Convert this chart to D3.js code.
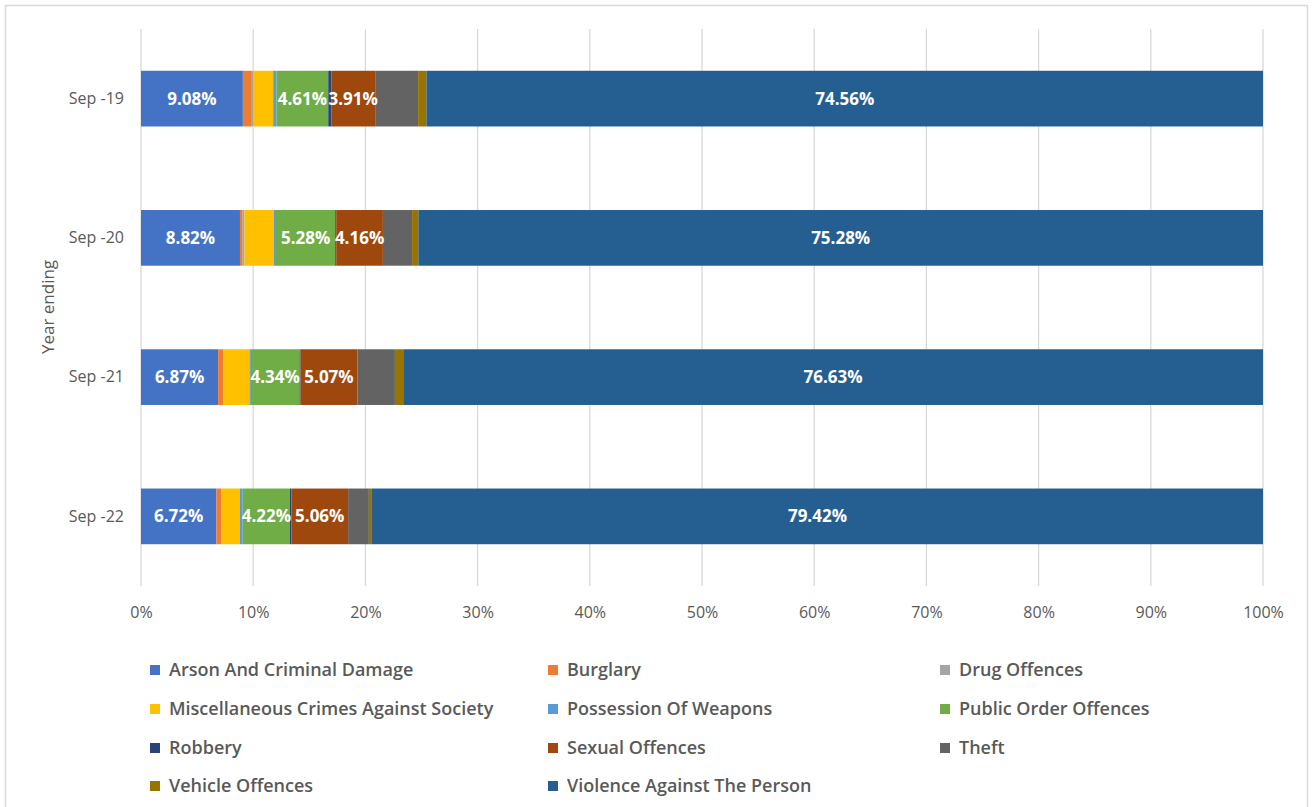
<!DOCTYPE html>
<html>
<head>
<meta charset="utf-8">
<script src="https://cdn.jsdelivr.net/npm/d3@7"></script>
<style>
  html, body { margin: 0; padding: 0; background: #fff; }
  svg { display: block; }
</style>
</head>
<body>
<svg id="chart" width="1314" height="807"></svg>
<script>
// ---- Data ----
const categories = ["Sep -19", "Sep -20", "Sep -21", "Sep -22"];
const seriesNames = [
  "Arson And Criminal Damage", "Burglary", "Drug Offences",
  "Miscellaneous Crimes Against Society", "Possession Of Weapons", "Public Order Offences",
  "Robbery", "Sexual Offences", "Theft",
  "Vehicle Offences", "Violence Against The Person"
];
const seriesColors = [
  "#4472C4", "#ED7D31", "#A5A5A5",
  "#FFC000", "#5B9BD5", "#70AD47",
  "#264478", "#9E480E", "#636363",
  "#997300", "#255E91"
];
// values in percent, one array per series, in category order
const arson       = [9.08, 8.82, 6.87, 6.72];
const burglary    = [0.80, 0.20, 0.47, 0.45];
const drug        = [0.10, 0.20, 0.04, 0.02];
const misc        = [1.80, 2.63, 2.29, 1.63];
const possession  = [0.30, 0.18, 0.12, 0.24];
const publicOrder = [4.61, 5.28, 4.34, 4.22];
const robbery     = [0.27, 0.09, 0.09, 0.12];
const sexual      = [3.91, 4.16, 5.07, 5.06];
const theft       = [3.83, 2.60, 3.34, 1.85];
const vehicle     = [0.74, 0.56, 0.74, 0.27];
const violence    = [74.56, 75.28, 76.63, 79.42];
const seriesValues = [arson, burglary, drug, misc, possession, publicOrder, robbery, sexual, theft, vehicle, violence];
const labelledSeries = ["Arson And Criminal Damage", "Public Order Offences", "Sexual Offences", "Violence Against The Person"];
const xTicks = [0, 10, 20, 30, 40, 50, 60, 70, 80, 90, 100];

// ---- Layout ----
const svg = d3.select("#chart");
const plot = { left: 141, right: 1263, top: 29, bottom: 586 };
const FONT = "'Open Sans', sans-serif";

// outer chart border
svg.append("rect").attr("x", 5.5).attr("y", 5.5).attr("width", 1302).attr("height", 810)
  .attr("fill", "#fff").attr("stroke", "#D9D9D9").attr("stroke-width", 1.5);

const x = d3.scaleLinear().domain([0, 100]).range([plot.left, plot.right]);
const y = d3.scaleBand().domain(categories).range([plot.top, plot.bottom])
  .paddingInner(0.6).paddingOuter(0.3);

// gridlines
svg.append("g").selectAll("line").data(xTicks).join("line")
  .attr("x1", d => x(d)).attr("x2", d => x(d))
  .attr("y1", plot.top).attr("y2", plot.bottom)
  .attr("stroke", "#D9D9D9").attr("stroke-width", 1.3);

// x axis labels
const xAxis = d3.axisBottom(x).tickValues(xTicks).tickFormat(d => d + "%").tickSize(0).tickPadding(0);
const gx = svg.append("g").attr("transform", `translate(0, ${plot.bottom + 32})`).call(xAxis);
gx.select(".domain").remove();
gx.selectAll("text").attr("fill", "#595959").attr("font-size", "16px")
  .attr("font-family", FONT).attr("dy", "0");

// y axis labels
const yAxis = d3.axisLeft(y).tickSize(0).tickPadding(17);
const gy = svg.append("g").attr("transform", `translate(${plot.left}, 0)`).call(yAxis);
gy.select(".domain").remove();
gy.selectAll("text").attr("fill", "#595959").attr("font-size", "16px")
  .attr("font-family", FONT);

// y axis title
svg.append("text").attr("transform", "translate(54, 307) rotate(-90)")
  .attr("text-anchor", "middle").attr("fill", "#595959")
  .attr("font-size", "17px").attr("font-family", FONT)
  .text("Year ending");

// stacked data
const rows = categories.map((c, i) => {
  const r = { cat: c };
  seriesNames.forEach((s, j) => r[s] = seriesValues[j][i]);
  return r;
});
const stack = d3.stack().keys(seriesNames)(rows);

const gBars = svg.append("g");
stack.forEach((layer, j) => {
  gBars.append("g").attr("fill", seriesColors[j]).selectAll("rect").data(layer).join("rect")
    .attr("x", d => x(d[0]))
    .attr("width", d => Math.max(0, x(d[1]) - x(d[0])))
    .attr("y", d => y(d.data.cat))
    .attr("height", y.bandwidth());
});

// data labels
stack.forEach((layer, j) => {
  if (!labelledSeries.includes(seriesNames[j])) return;
  gBars.append("g").selectAll("text").data(layer).join("text")
    .attr("x", d => (x(d[0]) + x(d[1])) / 2)
    .attr("y", d => y(d.data.cat) + y.bandwidth() / 2)
    .attr("dy", "0.36em")
    .attr("text-anchor", "middle")
    .attr("fill", "#fff").attr("font-weight", "700")
    .attr("font-size", "17px").attr("font-family", FONT)
    .text(d => (d[1] - d[0]).toFixed(2) + "%");
});

// legend
const legendCols = [150, 548, 940];
const legendRows = [670, 709, 748, 786];
const gl = svg.append("g");
seriesNames.forEach((s, i) => {
  const cx = legendCols[i % 3], cy = legendRows[Math.floor(i / 3)];
  const g = gl.append("g").attr("transform", `translate(${cx}, ${cy})`);
  g.append("rect").attr("x", 0).attr("y", -5).attr("width", 10).attr("height", 10).attr("fill", seriesColors[i]);
  g.append("text").attr("x", 19).attr("y", 0).attr("dy", "0.36em")
    .attr("fill", "#595959").attr("font-size", "18px").attr("font-weight", "600")
    .attr("font-family", FONT).text(s);
});
</script>
</body>
</html>
